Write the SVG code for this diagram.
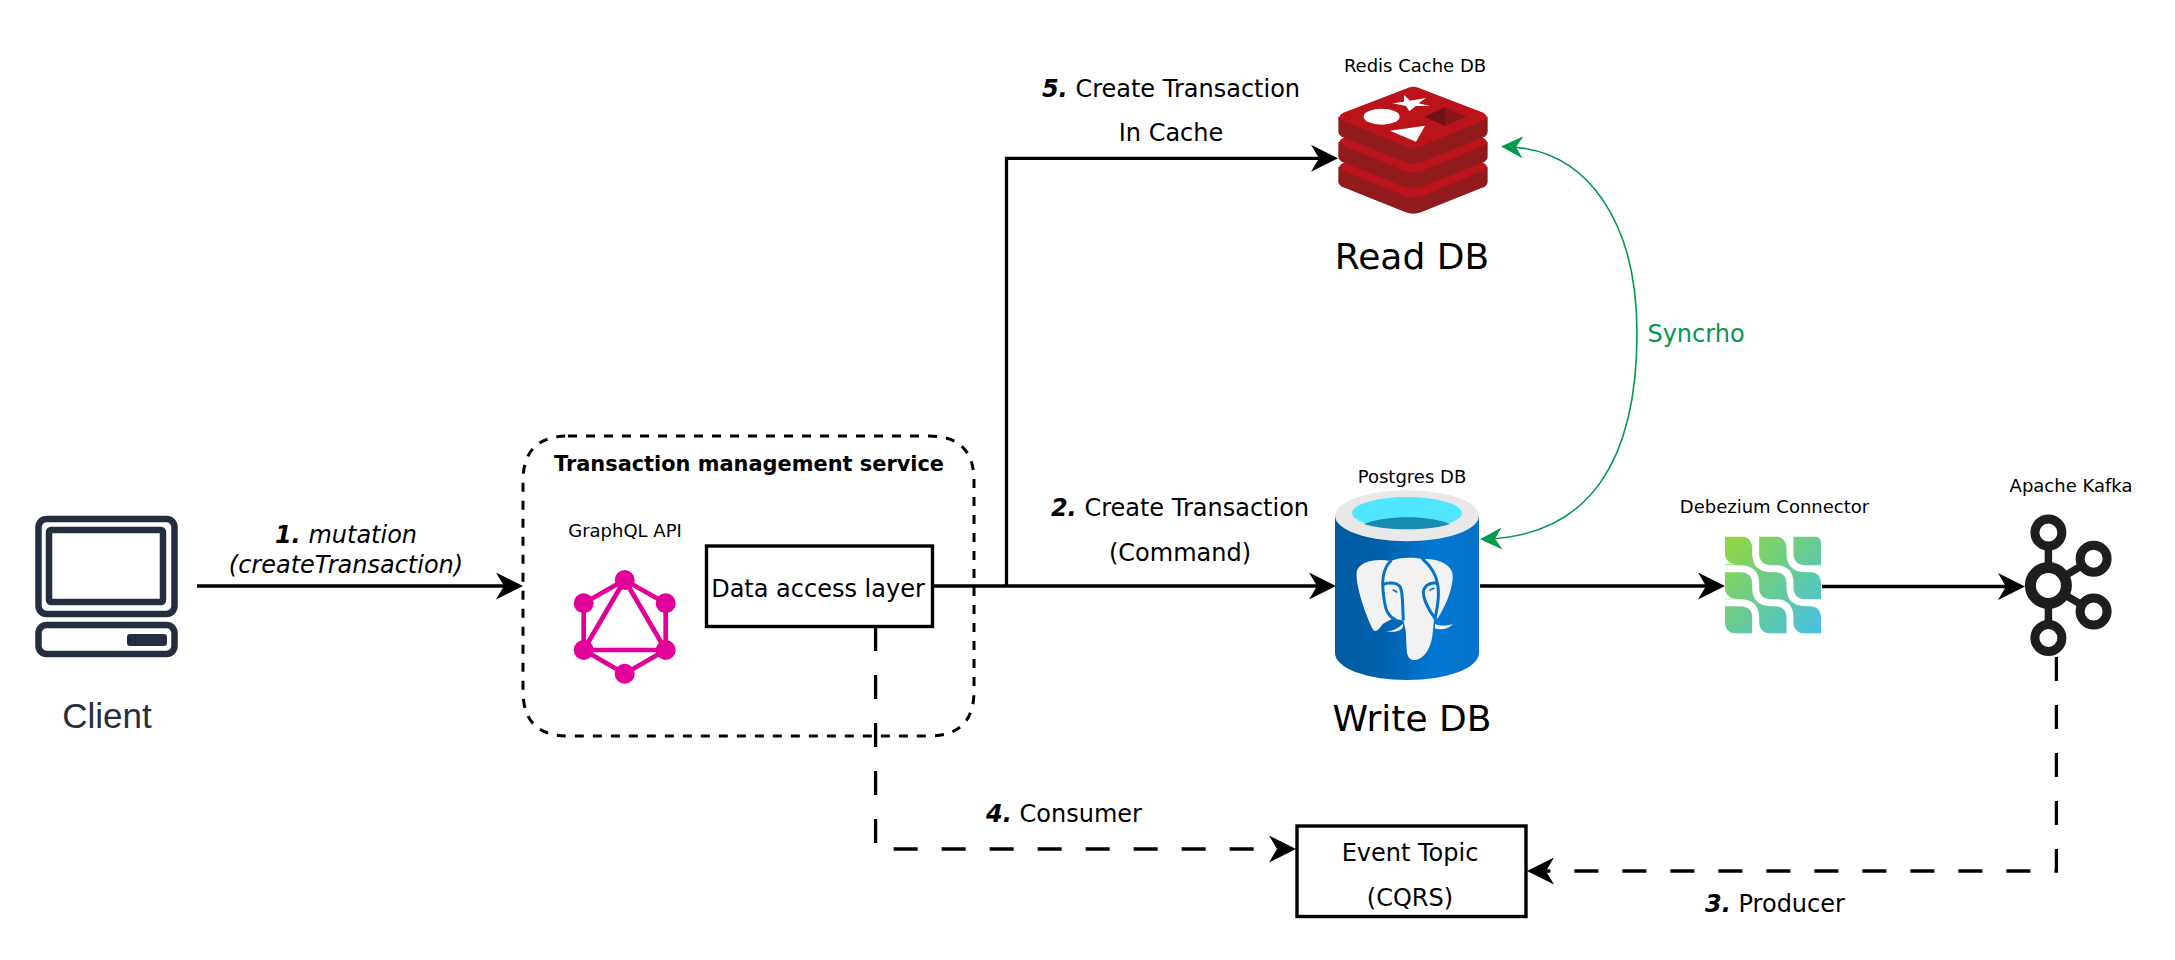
<svg xmlns="http://www.w3.org/2000/svg" width="2175" height="960" viewBox="0 0 2175 960">
<style>
text{font-family:"DejaVu Sans",sans-serif;fill:#000;text-anchor:middle}
.l{font-size:24px}
.s{font-size:18px}
.b{font-size:36px}
.n{font-weight:bold;font-style:italic}
.i{font-style:italic}
.box{fill:#fff;stroke:#000;stroke-width:3.4}
.edge{fill:none;stroke:#000;stroke-width:3.3;marker-end:url(#ah)}
.dash{stroke-dasharray:24 24}
.kr{fill:none;stroke:#1E1E1E}
.gq{stroke:#E10098;stroke-width:4.7;fill:none}
.pgl{fill:none;stroke:#0872C8;stroke-width:9;stroke-linecap:round}
</style>
<defs>
<marker id="ah" markerUnits="userSpaceOnUse" markerWidth="27" markerHeight="27" viewBox="0 0 27 27" refX="19" refY="13.5" orient="auto"><path d="M0,0L27,13.5L0,27L8,13.5Z" fill="#000"/></marker>
<marker id="gh" markerUnits="userSpaceOnUse" markerWidth="22" markerHeight="22" viewBox="0 0 22 22" refX="15" refY="11" orient="auto"><path d="M0,0L22,11L0,22L7,11Z" fill="#00994D"/></marker>
<marker id="gs" markerUnits="userSpaceOnUse" markerWidth="22" markerHeight="22" viewBox="0 0 22 22" refX="7" refY="11" orient="auto"><path d="M22,0L0,11L22,22L15,11Z" fill="#00994D"/></marker>
<linearGradient id="pg" x1="0" x2="1" y1="0" y2="0"><stop offset="0" stop-color="#005BA1"/><stop offset=".3" stop-color="#0060A9"/><stop offset=".7" stop-color="#0078D4"/><stop offset="1" stop-color="#0872C8"/></linearGradient>
<linearGradient id="dz" x1="0" y1="0" x2="1" y2="1"><stop offset="0" stop-color="#94D63C"/><stop offset=".5" stop-color="#68CC92"/><stop offset="1" stop-color="#48BEE8"/></linearGradient>
<g id="rl"><path d="M55,140V185Q55,195 70,202L255,276Q280,286 305,276L490,202Q503,195 503,185V140Z" fill="#911A1C"/><path d="M265,53Q280,47 295,53L490,128Q510,140 490,152L305,228Q280,238 255,228L70,152Q48,140 70,128Z" fill="#BA141A"/></g>
</defs>

<g id="connectors">
<path class="edge" d="M197,586H515"/>
<path class="edge" d="M933,586H1328"/>
<path class="edge" d="M1006.5,586V158.3H1330"/>
<path class="edge" d="M1480,586H1717"/>
<path class="edge" d="M1822,586.5H2017"/>
<path class="edge dash" d="M875.6,627V849H1288"/>
<path class="edge dash" d="M2056.4,657V871H1535"/>
<path d="M1508,146.7C1590,150 1637,225 1637,333C1637,460 1590,535 1487,539" fill="none" stroke="#00994D" stroke-width="1.6" marker-start="url(#gs)" marker-end="url(#gh)"/>
</g>

<g id="client">
<rect x="38.5" y="519" width="136" height="95" rx="8" fill="none" stroke="#232F3E" stroke-width="6.5"/>
<rect x="49" y="530" width="114" height="72" rx="2" fill="none" stroke="#232F3E" stroke-width="6.5"/>
<rect x="38.5" y="625" width="136" height="29" rx="8" fill="none" stroke="#232F3E" stroke-width="6.5"/>
<rect x="127" y="634" width="40" height="12" rx="3" fill="#232F3E"/>
<text x="107" y="728" style="font-family:'Liberation Sans',Arial,sans-serif;font-size:35px;fill:#232F3E">Client</text>
</g>

<g id="service">
<path d="M568,436H929Q974,436 974,481V691Q974,736 929,736H568Q523,736 523,691V481Q523,436 568,436Z" fill="none" stroke="#000" stroke-width="3" stroke-dasharray="9 9"/>
<text x="749" y="471" style="font-size:20.9px;font-weight:bold">Transaction management service</text>
</g>

<g id="graphql">
<text x="625" y="537" class="s">GraphQL API</text>
<path class="gq" d="M624.7,580L665.7,603.3V650L624.7,673.7L583.7,650V603.3ZM624.7,580L665.7,650H583.7Z"/>
<g fill="#E10098"><circle cx="624.7" cy="580" r="10"/><circle cx="665.7" cy="603.3" r="10"/><circle cx="665.7" cy="650" r="10"/><circle cx="624.7" cy="673.7" r="10"/><circle cx="583.7" cy="650" r="10"/><circle cx="583.7" cy="603.3" r="10"/></g>
</g>

<g id="data-access">
<rect class="box" x="706.5" y="546" width="226" height="80.5"/>
<text x="818" y="596.5" class="l">Data access layer</text>
</g>

<g id="label-1">
<text x="346" y="543" class="l"><tspan class="n">1.</tspan><tspan class="i"> mutation</tspan></text>
<text x="346" y="573" class="l i">(createTransaction)</text>
</g>
<g id="label-2">
<text x="1180" y="516" class="l"><tspan class="n">2.</tspan> Create Transaction</text>
<text x="1180" y="561" class="l">(Command)</text>
</g>
<g id="label-5">
<text x="1171" y="96.5" class="l"><tspan class="n">5.</tspan> Create Transaction</text>
<text x="1171" y="141" class="l">In Cache</text>
</g>
<g id="label-4"><text x="1064" y="822" class="l"><tspan class="n">4.</tspan> Consumer</text></g>
<g id="label-3"><text x="1775" y="911.7" class="l"><tspan class="n">3.</tspan> Producer</text></g>
<g id="label-sync"><text x="1696" y="342" class="l" style="fill:#00994D">Syncrho</text></g>

<g id="redis">
<text x="1415" y="71.7" class="s">Redis Cache DB</text>
<g transform="translate(1320,70) scale(.3333)">
<use href="#rl" y="150"/>
<use href="#rl" y="75"/>
<use href="#rl"/>
<path d="M252,75L270,92L318,84L296,100L330,108L287,108L268,124L258,108L218,100L252,95Z" fill="#fff"/>
<ellipse cx="185" cy="140" rx="54" ry="24" fill="#fff"/>
<path d="M210,182L315,167L288,215Z" fill="#fff"/>
<path d="M313,140L375,112V168Z" fill="#6E1216"/>
<path d="M375,112L440,140L375,168Z" fill="#8A1518"/>
</g>
<text x="1412" y="269" class="b">Read DB</text>
</g>

<g id="postgres">
<text x="1412" y="482.7" class="s">Postgres DB</text>
<path d="M1335,516V653C1335,668 1367,680 1407,680C1447,680 1479,668 1479,653V516Z" fill="url(#pg)"/>
<ellipse cx="1407" cy="515.7" rx="72" ry="25.5" fill="#E8E8E8"/>
<ellipse cx="1407" cy="513" rx="55" ry="16" fill="#50E6FF"/>
<path d="M1364,524C1385,515 1430,515 1450,524C1430,531 1385,531 1364,524Z" fill="#198AB3"/>
<g transform="translate(1340,550) scale(.3333)">
<path d="M152,33C105,25 58,35 50,65C45,110 85,215 100,240C108,248 118,238 128,222L160,205L190,212L197,240L200,300C202,325 212,332 228,330C255,325 275,290 278,250L282,210L293,205C310,180 340,120 338,75C335,40 290,25 248,27C215,20 175,22 152,33Z" fill="#F2F2F2"/>
<path class="pgl" d="M152,33C130,55 125,90 130,130C135,175 140,195 165,208"/>
<path class="pgl" d="M130,105C135,98 170,95 180,110C190,125 187,170 190,208"/>
<path class="pgl" d="M248,27C275,50 290,80 292,100C300,130 293,170 285,205"/>
<path class="pgl" d="M292,100C280,97 255,100 250,125C250,150 270,185 285,205"/>
<path class="pgl" style="stroke-width:5" d="M160,120L170,126M270,120L282,115"/>
<path d="M138,243C155,245 175,235 188,222C195,235 175,252 138,243Z" fill="#F2F2F2"/>
<path d="M285,222C300,228 320,228 338,222C325,240 295,240 285,235Z" fill="#F2F2F2"/>
</g>
<text x="1412" y="731" class="b">Write DB</text>
</g>

<g id="debezium">
<text x="1774.5" y="513" class="s">Debezium Connector</text>
<rect x="1725" y="536.7" width="96" height="96.6" fill="url(#dz)"/>
<g transform="translate(1715,530) scale(.3333)" fill="none" stroke="#fff" stroke-width="21">
<path d="M225,15V70Q225,116 271,116H325"/>
<path d="M122,15V70Q122,116 168,116H180Q225,116 225,161V172Q225,218 271,218H325"/>
<path d="M20,116H76Q122,116 122,162V172Q122,218 168,218H180Q225,218 225,264V315"/>
<path d="M20,218H76Q122,218 122,264V315"/>
<g fill="#fff" stroke="none">
<path d="M77,19C100,19 112,35 112,57V19Z"/>
<path d="M180,19C203,19 215,35 215,57V19Z"/>
<path d="M298,19C310,19 318,27 318,39V19Z"/>
<path d="M283,125C306,125 318,140 318,160V125Z"/>
<path d="M283,228C306,228 318,243 318,263V228Z"/>
<path d="M29,67C29,90 45,103 65,103H29Z"/>
<path d="M29,170C29,193 45,206 65,206H29Z"/>
<path d="M29,275C29,298 45,311 65,311H29Z"/>
<path d="M132,275C132,298 148,311 168,311H132Z"/>
<path d="M235,275C235,298 251,311 271,311H235Z"/>
</g>
</g>
</g>

<g id="kafka">
<text x="2071" y="492" class="s">Apache Kafka</text>
<path d="M2048.4,545V625M2048.4,585.5L2093.6,558.7M2048.4,585.5L2093.6,611.6" stroke="#1E1E1E" stroke-width="7.5" fill="none"/>
<circle class="kr" cx="2048.4" cy="585.5" r="18" stroke-width="11" style="fill:#fff"/>
<circle class="kr" cx="2048.4" cy="532.6" r="13.5" stroke-width="9"/>
<circle class="kr" cx="2093.6" cy="558.7" r="13.5" stroke-width="9" style="fill:#fff"/>
<circle class="kr" cx="2093.6" cy="611.6" r="13.5" stroke-width="9" style="fill:#fff"/>
<circle class="kr" cx="2048.4" cy="638" r="13.5" stroke-width="9"/>
</g>

<g id="event-topic">
<rect class="box" x="1297" y="826" width="229" height="90.5"/>
<text x="1410" y="860.7" class="l">Event Topic</text>
<text x="1410" y="906" class="l">(CQRS)</text>
</g>
</svg>
